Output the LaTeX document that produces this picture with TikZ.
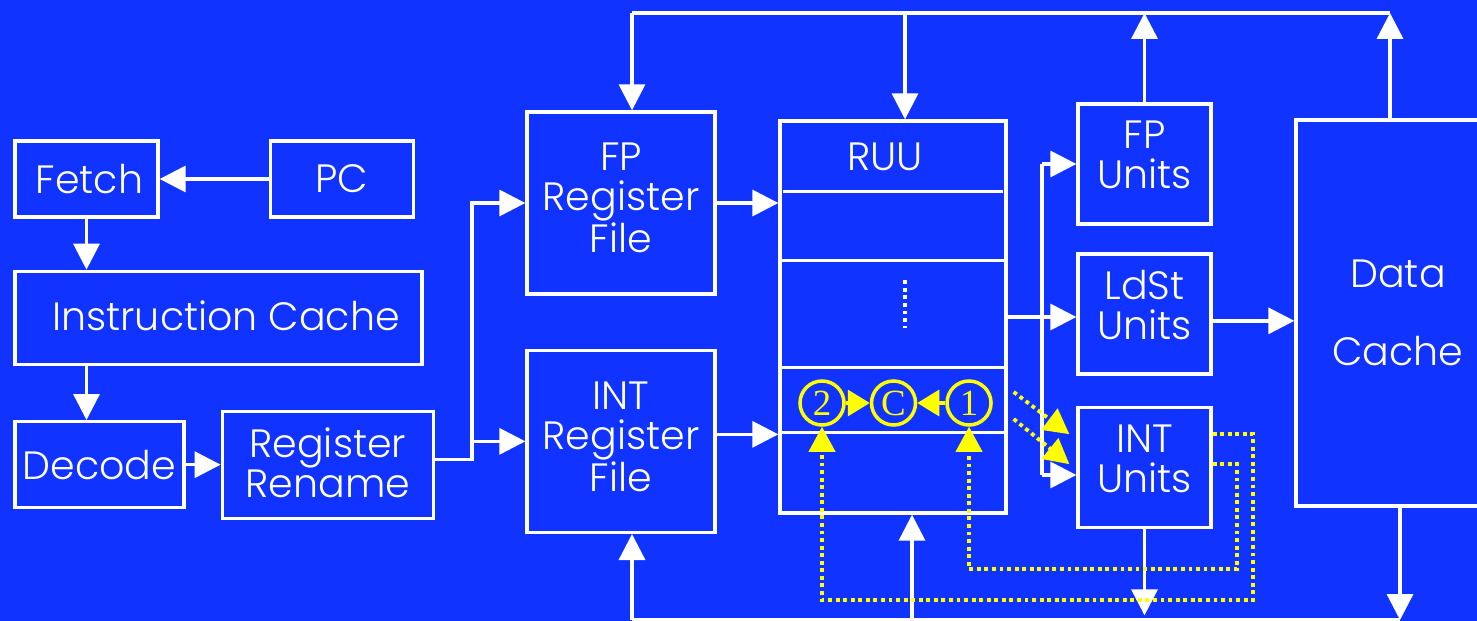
\documentclass[tikz,border=0pt]{standalone}
\usepackage{fontspec}
\setmainfont{Poppins Light}
\newfontfamily\numfont{Liberation Serif}
\usetikzlibrary{arrows.meta, positioning}
\definecolor{azul}{RGB}{17, 51, 255}
\definecolor{amarelo}{RGB}{255, 255, 0}
\tikzset{
  caixa/.style={
    draw=white, line width=1.9pt, inner sep=0pt, text=white, align=center,
    font=\fontsize{22.5}{22.8}\selectfont
  },
  unidade/.style={caixa, minimum width=2.66cm, minimum height=2.4cm, text depth=0.36cm},
  regfile/.style={caixa, minimum width=3.76cm, minimum height=3.64cm, text depth=0.2cm},
  linha/.style={white, line width=1.9pt},
  seta/.style={-{Triangle[length=0.52cm, width=0.52cm]}, white, line width=1.9pt},
  pontilhado/.style={line width=2.2pt, dash pattern=on 2.2pt off 2.1pt},
  setaAm/.style={-{Triangle[length=0.5cm, width=0.52cm]}, amarelo, pontilhado},
  setaCirc/.style={-{Triangle[length=0.44cm, width=0.52cm]}, amarelo, line width=1.9pt},
  circulo/.style={circle, draw=amarelo, line width=2pt, minimum size=0.88cm,
    inner sep=0pt, text=amarelo, font=\numfont\fontsize{21}{21}\selectfont},
}
\begin{document}
\begin{tikzpicture}
  \useasboundingbox (0,0) rectangle (29.54,-12.42);
  \fill[azul] (0,0) rectangle (29.54,-12.42);
  \clip (0,0) rectangle (29.54,-12.42);

  % front end
  \node[caixa, minimum width=2.86cm, minimum height=1.52cm] (fetch) at (1.73,-3.58)
    {\hspace*{0.12cm}Fetch};
  \node[caixa, minimum width=2.86cm, minimum height=1.52cm, right=2.18cm of fetch] (pc) {PC};
  \node[caixa, minimum width=8.14cm, minimum height=1.86cm, text depth=0.1cm,
    below right=1.02cm and 0cm of fetch.south west] (ic) {\hspace*{0.3cm}Instruction Cache};
  \node[caixa, minimum width=3.38cm, minimum height=1.72cm,
    below right=1.08cm and 0cm of ic.south west] (decode) {Decode};
  \node[caixa, minimum width=4.22cm, minimum height=2.14cm, text depth=0.1cm,
    right=0.7cm of decode] (rr) {Register\\Rename};

  % register files and RUU
  \node[regfile] (fprf) at (12.42,-4.06) {FP\\Register\\File};
  \node[regfile, below=1.06cm of fprf] (intrf) {INT\\Register\\File};
  \node[caixa, minimum width=4.52cm, minimum height=7.84cm] (ruu) at (17.86,-6.34) {};
  \node[text=white, font=\fontsize{22.5}{22.8}\selectfont] (ruulbl)
    at ([xshift=-0.16cm, yshift=-0.74cm]ruu.north) {RUU};
  \draw[linha] ([xshift=0.1cm, yshift=-1.44cm]ruu.north west)
    -- ([xshift=-0.1cm, yshift=-1.44cm]ruu.north east);
  \foreach \d in {2.82, 4.96, 6.26}
    \draw[linha] ([yshift=-\d cm]ruu.north west) -- ([yshift=-\d cm]ruu.north east);
  \draw[white, pontilhado] ([xshift=0.24cm, yshift=-3.22cm]ruu.north)
    -- ([xshift=0.24cm, yshift=-4.18cm]ruu.north);

  % units and data cache
  \node[unidade] (fpu) at (22.89,-3.28) {FP\\Units};
  \node[unidade, below=0.53cm of fpu] (ldst) {LdSt\\Units};
  \node[unidade, below=0.61cm of ldst] (intu) {INT\\Units};
  \node[caixa, minimum width=4.08cm, minimum height=7.72cm, text depth=0cm]
    (dc) at (27.96,-6.26) {Data\\[0.76cm]Cache};

  % completion chain
  \node[circulo] (c2) at (16.44,-8.06) {2};
  \node[circulo, right=0.48cm of c2] (cc) {C};
  \node[circulo, right=0.56cm of cc] (c1) {1};
  \draw[setaCirc] (c2) -- (cc);
  \draw[setaCirc] (c1) -- (cc);

  % front end arrows
  \draw[seta] (pc) -- (fetch);
  \draw[seta] (fetch.south) -- (fetch.south |- ic.north);
  \draw[seta] (fetch.south |- ic.south) -- (fetch.south |- decode.north);
  \draw[seta] (decode) -- (decode -| rr.west);
  \draw[seta] ([yshift=0.1cm]rr.east) -- ++(0.74,0) |- (fprf.west);
  \draw[seta] ([yshift=0.1cm]rr.east) -- ++(0.74,0) |- (intrf.west);
  \draw[seta] (fprf.east) -- (fprf.east -| ruu.west);
  \draw[seta] ([yshift=0.14cm]intrf.east) -- ([yshift=0.14cm]intrf.east -| ruu.west);

  % top bus
  \coordinate (tA) at (12.64,-0.26);
  \coordinate (tR) at (18.1,-0.26);
  \coordinate (tB) at (27.8,-0.26);
  \draw[linha] (tA) -- (tB);
  \draw[seta] (tA) -- (tA |- fprf.north);
  \draw[seta] (tR) -- (tR |- ruu.north);
  \draw[seta] (fpu.north) -- (fpu.north |- tA);
  \draw[seta] (tB |- dc.north) -- (tB);

  % bottom bus
  \coordinate (bA) at (12.64,-12.4);
  \coordinate (bR) at (18.24,-12.4);
  \coordinate (bB) at (28.0,-12.4);
  \draw[linha] (bA) -- (bB);
  \draw[seta] (bA) -- (bA |- intrf.south);
  \draw[seta] (bR) -- (bR |- ruu.south);
  \draw[seta] (intu.south) -- ++(0,-1.72);
  \draw[seta] (bB |- dc.south) -- (bB);

  % issue to units
  \coordinate (uA) at (20.84,-3.28);
  \coordinate (uB) at (20.84,-9.5);
  \draw[linha] (uA) -- (uB);
  \draw[seta] (uA) -- (fpu.west);
  \draw[seta] (uB) -- (uB -| intu.west);
  \draw[seta] (ruu.east) -- (ruu.east -| ldst.west);
  \draw[seta] ([yshift=-0.14cm]ldst.east) -- ([yshift=-0.14cm]ldst.east -| dc.west);

  % yellow dependences
  \draw[setaAm] ([xshift=0.12cm, yshift=-1.5cm]ruu.east)
    -- ([xshift=-0.14cm, yshift=0.67cm]intu.west);
  \draw[setaAm] ([xshift=0.12cm, yshift=-2.04cm]ruu.east)
    -- ([xshift=-0.14cm, yshift=0.07cm]intu.west);
  \draw[setaAm] ([yshift=0.67cm]intu.east) -| (25.06,-12.0) -| (c2.south);
  \draw[setaAm] ([yshift=0.07cm]intu.east) -| (24.74,-11.38) -| (c1.south);
\end{tikzpicture}
\end{document}
